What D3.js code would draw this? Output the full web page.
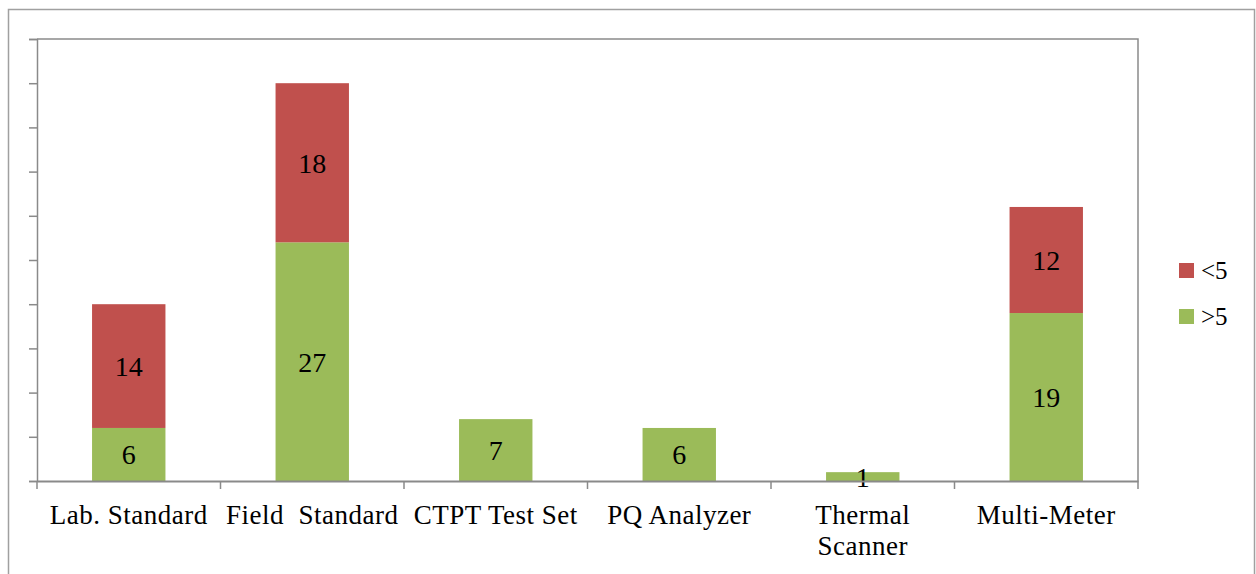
<!DOCTYPE html>
<html>
<head>
<meta charset="utf-8">
<script src="https://cdn.jsdelivr.net/npm/d3@7"></script>
<style>
  html, body { margin: 0; padding: 0; background: #fff; }
  svg { display: block; }
  text { font-family: "Liberation Serif", "Times New Roman", serif; fill: #000; }
</style>
</head>
<body>
<svg id="chart" width="1256" height="574"></svg>
<script>
const categories = [["Lab. Standard"], ["Field  Standard"], ["CTPT Test Set"], ["PQ Analyzer"], ["Thermal", "Scanner"], ["Multi-Meter"]];
const seriesNames = [">5", "<5"];
const greaterThan5 = [6, 27, 7, 6, 1, 19];
const lessThan5 = [14, 18, 0, 0, 0, 12];
const yTicks = [0, 5, 10, 15, 20, 25, 30, 35, 40, 45, 50];
const colors = { ">5": "#9BBB59", "<5": "#C0504D" };

const svg = d3.select("#chart");
const plot = { left: 37, top: 39, right: 1138, bottom: 481 };
const axisColor = "#8a8a8a";

// outer chart border
svg.append("rect")
  .attr("x", 8.5).attr("y", 9.5)
  .attr("width", 1246).attr("height", 600)
  .attr("fill", "none").attr("stroke", "#a0a0a0").attr("stroke-width", 1.5);

const keys = categories.map(c => c.join(" "));
const x = d3.scaleBand().domain(keys).range([plot.left, plot.right]).padding(0);
const y = d3.scaleLinear().domain([0, 50]).range([plot.bottom, plot.top]);
const barW = x.bandwidth() * 0.4;

// plot area border (top & right)
svg.append("path")
  .attr("d", `M${plot.left},${plot.top}H${plot.right}V${plot.bottom}`)
  .attr("fill", "none").attr("stroke", axisColor).attr("stroke-width", 1.5);

const rows = keys.map((k, i) => ({ key: k, ">5": greaterThan5[i], "<5": lessThan5[i] }));
const stack = d3.stack().keys(seriesNames)(rows);

const g = svg.append("g");
stack.forEach(layer => {
  g.selectAll(null).data(layer.filter(d => d[1] - d[0] > 0)).enter()
    .append("rect")
    .attr("x", d => x(d.data.key) + (x.bandwidth() - barW) / 2)
    .attr("y", d => y(d[1]))
    .attr("width", barW)
    .attr("height", d => y(d[0]) - y(d[1]))
    .attr("fill", colors[layer.key]);
});

// value labels
stack.forEach(layer => {
  g.selectAll(null).data(layer.filter(d => d[1] - d[0] > 0)).enter()
    .append("text")
    .attr("x", d => x(d.data.key) + x.bandwidth() / 2)
    .attr("y", d => (y(d[0]) + y(d[1])) / 2 + 10)
    .attr("text-anchor", "middle")
    .attr("font-size", 28)
    .text(d => d[1] - d[0]);
});

// y axis
const yAxis = svg.append("g")
  .attr("transform", `translate(${plot.left},0)`)
  .call(d3.axisLeft(y).tickValues(yTicks).tickSize(8).tickFormat(""));
yAxis.selectAll("path, line").attr("stroke", axisColor).attr("stroke-width", 1.5);

// x axis
const xAxis = svg.append("g")
  .attr("transform", `translate(0,${plot.bottom})`)
  .call(d3.axisBottom(x).tickSize(0).tickFormat(""));
xAxis.select("path").attr("stroke", axisColor).attr("stroke-width", 2);
const bounds = keys.map(k => x(k)).concat([plot.right]);
xAxis.selectAll(".bound").data(bounds).enter().append("line")
  .attr("x1", d => d).attr("x2", d => d)
  .attr("y1", 0).attr("y2", 8)
  .attr("stroke", axisColor).attr("stroke-width", 1.5);

// category labels
categories.forEach((lines, i) => {
  const cx = x(keys[i]) + x.bandwidth() / 2;
  const t = svg.append("text")
    .attr("x", cx)
    .attr("y", 524)
    .attr("text-anchor", "middle")
    .attr("font-size", 27)
    .attr("letter-spacing", 0.5);
  lines.forEach((ln, j) => {
    t.append("tspan").attr("x", cx)
      .attr("dy", j === 0 ? 0 : 31).attr("xml:space", "preserve").text(ln);
  });
});

// legend
const legendItems = ["<5", ">5"];
const lg = svg.append("g");
legendItems.forEach((k, i) => {
  const yy = 263 + i * 46;
  lg.append("rect").attr("x", 1179).attr("y", yy).attr("width", 15).attr("height", 15).attr("fill", colors[k]);
  lg.append("text").attr("x", 1201).attr("y", yy + 16).attr("font-size", 25).text(k);
});
</script>
</body>
</html>
